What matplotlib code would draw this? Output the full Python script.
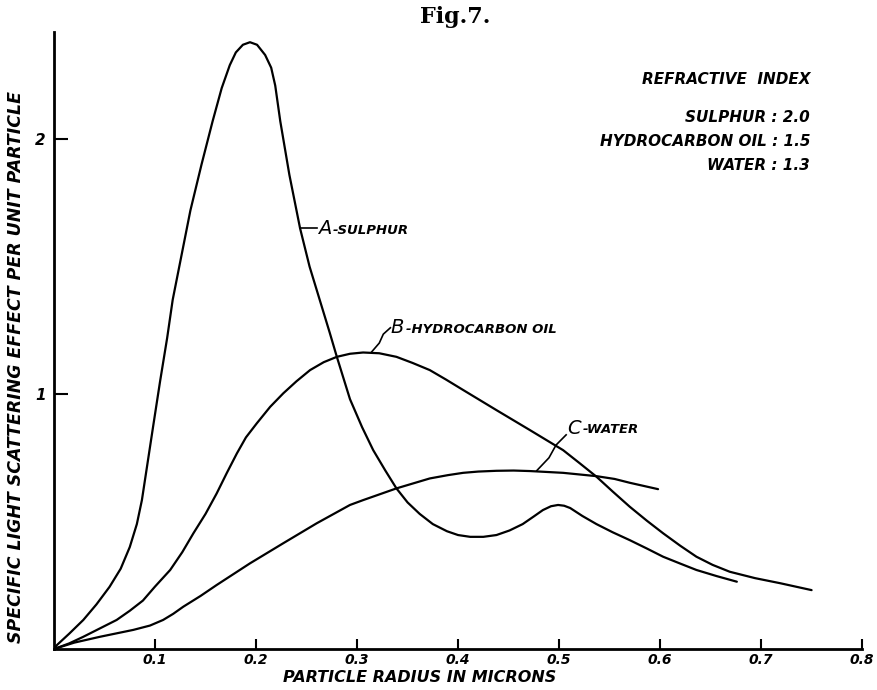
import numpy as np
import matplotlib
matplotlib.use("Agg")
import matplotlib.pyplot as plt

plt.rcParams['font.family'] = ['DejaVu Sans']

# Values (radius in microns, scattering effect)
sulphur_x = [0.0, 0.003, 0.015, 0.029, 0.042, 0.055, 0.066, 0.075, 0.082, 0.087, 0.093,
             0.098, 0.105, 0.112, 0.1175, 0.127, 0.135, 0.146, 0.157, 0.166, 0.174, 0.180,
             0.187, 0.194, 0.201, 0.209, 0.215, 0.219, 0.224, 0.233, 0.2436, 0.253, 0.263,
             0.273, 0.28, 0.293, 0.305, 0.316, 0.328, 0.339, 0.350, 0.362, 0.375, 0.389,
             0.400, 0.412, 0.425, 0.438, 0.451, 0.464, 0.475, 0.484, 0.492, 0.499, 0.505,
             0.511, 0.523, 0.537, 0.553, 0.570, 0.587, 0.603, 0.620, 0.636, 0.656, 0.676]
sulphur_y = [0.0, 0.016, 0.06, 0.114, 0.175, 0.244, 0.315, 0.40, 0.49, 0.584, 0.74,
             0.87, 1.05, 1.22, 1.37, 1.56, 1.72, 1.90, 2.07, 2.20, 2.29, 2.34,
             2.37, 2.38, 2.37, 2.33, 2.28, 2.21, 2.07, 1.86, 1.65, 1.50, 1.37,
             1.24, 1.146, 0.98, 0.87, 0.78, 0.70, 0.63, 0.575, 0.53, 0.49, 0.462,
             0.447, 0.44, 0.44, 0.447, 0.465, 0.49, 0.52, 0.545, 0.56, 0.565, 0.562,
             0.553, 0.522, 0.49, 0.458, 0.427, 0.394, 0.362, 0.335, 0.31, 0.286, 0.264]

oil_x = [0.0, 0.015, 0.029, 0.045, 0.062, 0.075, 0.088, 0.1, 0.115, 0.127, 0.138, 0.15,
         0.161, 0.171, 0.181, 0.19, 0.2007, 0.214, 0.227, 0.24, 0.2535, 0.267, 0.28,
         0.293, 0.306, 0.322, 0.339, 0.355, 0.372, 0.388, 0.405, 0.438, 0.471, 0.504,
         0.52, 0.537, 0.553, 0.570, 0.587, 0.603, 0.62, 0.636, 0.652, 0.669, 0.694,
         0.719, 0.750]
oil_y = [0.0, 0.022, 0.048, 0.08, 0.114, 0.15, 0.19, 0.245, 0.31, 0.38, 0.454, 0.53,
         0.61, 0.69, 0.767, 0.83, 0.885, 0.95, 1.003, 1.05, 1.094, 1.125, 1.146,
         1.158, 1.163, 1.16, 1.146, 1.122, 1.094, 1.057, 1.016, 0.937, 0.859, 0.78,
         0.73, 0.676, 0.618, 0.558, 0.503, 0.454, 0.405, 0.362, 0.33, 0.303, 0.278,
         0.258, 0.231]

water_x = [0.0, 0.02, 0.0455, 0.0785, 0.095, 0.108, 0.118, 0.128, 0.145, 0.161, 0.194,
           0.227, 0.26, 0.293, 0.306, 0.339, 0.372, 0.39, 0.405, 0.42, 0.438, 0.455,
           0.471, 0.504, 0.537, 0.555, 0.570, 0.598]
water_y = [0.0, 0.025, 0.048, 0.075, 0.092, 0.114, 0.138, 0.166, 0.208, 0.251, 0.336,
           0.415, 0.493, 0.565, 0.584, 0.63, 0.669, 0.682, 0.691, 0.696, 0.699, 0.7,
           0.698, 0.691, 0.678, 0.667, 0.652, 0.627]

x_ticks = [0.1, 0.2, 0.3, 0.4, 0.5, 0.6, 0.7, 0.8]
x_tick_labels = ['0.1', '0.2', '0.3', '0.4', '0.5', '0.6', '0.7', '0.8']
y_ticks = [1, 2]
y_tick_labels = ['1', '2']

index_lines = ['SULPHUR : 2.0', 'HYDROCARBON OIL : 1.5', 'WATER : 1.3']

txt = dict(fontstyle='italic', fontweight='bold', color='black')

fig = plt.figure(figsize=(8.77, 6.9), dpi=100)
ax = fig.add_axes([0.0616, 0.0594, 0.9214, 0.8942])

for xs, ys in [(sulphur_x, sulphur_y), (oil_x, oil_y), (water_x, water_y)]:
    ax.plot(xs, ys, color='black', lw=1.6, solid_capstyle='round', solid_joinstyle='round')

ax.set_xlim(0, 0.8)
ax.set_ylim(0, 2.42)
ax.spines['top'].set_visible(False)
ax.spines['right'].set_visible(False)
ax.spines['left'].set_linewidth(2)
ax.spines['bottom'].set_linewidth(2)

ax.set_xticks(x_ticks)
ax.set_xticklabels(x_tick_labels, fontsize=10, **txt)
ax.set_yticks(y_ticks)
ax.set_yticklabels(y_tick_labels, fontsize=11, **txt)
ax.tick_params(axis='x', direction='in', length=7, width=1.5, pad=3)
ax.tick_params(axis='y', direction='in', length=10, width=1.5, pad=6)

ax.set_xlabel('PARTICLE RADIUS IN MICRONS', fontsize=11.5, **txt)
ax.xaxis.set_label_coords(0.453, -0.034)
ax.set_ylabel('SPECIFIC LIGHT SCATTERING EFFECT PER UNIT PARTICLE',
              fontsize=12.5, **txt)
ax.yaxis.set_label_coords(-0.036, 0.457)

# curve labels with leader lines
ax.plot([0.2436, 0.260], [1.65, 1.65], color='black', lw=1.2)
ax.text(0.261, 1.65, 'A', fontsize=14, va='center', ha='left', fontstyle='italic')
ax.text(0.276, 1.64, '-SULPHUR', fontsize=9.5, va='center', ha='left', **txt)

ax.plot([0.3146, 0.322, 0.326, 0.333], [1.166, 1.20, 1.235, 1.26], color='black', lw=1.2)
ax.text(0.333, 1.26, 'B', fontsize=14, va='center', ha='left', fontstyle='italic')
ax.text(0.348, 1.255, '-HYDROCARBON OIL', fontsize=9.5, va='center', ha='left', **txt)

ax.plot([0.478, 0.490, 0.497, 0.507], [0.700, 0.75, 0.80, 0.84], color='black', lw=1.2)
ax.text(0.508, 0.865, 'C', fontsize=14, va='center', ha='left', fontstyle='italic')
ax.text(0.523, 0.86, '-WATER', fontsize=9.5, va='center', ha='left', **txt)

# refractive index note
fig.text(810 / 877, 1 - 80 / 690, 'REFRACTIVE  INDEX', fontsize=11, ha='right', va='center', **txt)
for i, line in enumerate(index_lines):
    fig.text(810 / 877, 1 - (117 + 24 * i) / 690, line, fontsize=11, ha='right', va='center', **txt)

fig.text(455 / 877, 1 - 17 / 690, 'Fig.7.', fontsize=16, ha='center', va='center',
         fontweight='bold', family='DejaVu Serif')

fig.savefig('out.png', dpi=100, facecolor='white')
